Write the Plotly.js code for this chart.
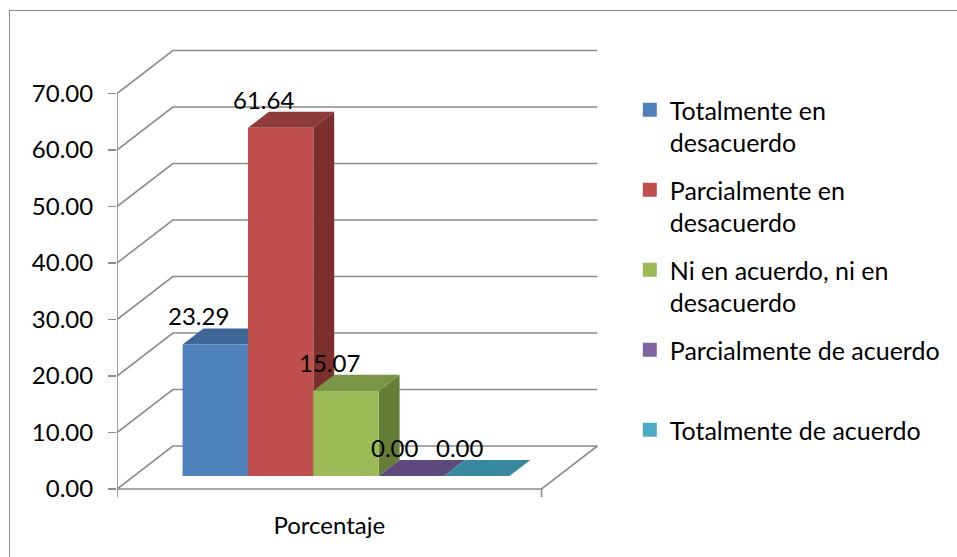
<!DOCTYPE html>
<html>
<head>
<meta charset="utf-8">
<script src="https://cdn.plot.ly/plotly-3.0.1.min.js"></script>
<style>
  html, body { margin: 0; padding: 0; background: #ffffff; }
  #frame { position: absolute; left: 9px; top: 10px; width: 960px; height: 560px;
           border-top: 1.5px solid #8c8c8c; border-left: 1.5px solid #8c8c8c; }
  #chart { position: absolute; left: 0; top: 0; width: 957px; height: 557px; }
</style>
</head>
<body>
<div id="frame"></div>
<div id="chart"></div>
<script>
// ---- data ----
const categories = ['Porcentaje'];
const seriesNames = [
  'Totalmente en desacuerdo',
  'Parcialmente en desacuerdo',
  'Ni en acuerdo, ni en desacuerdo',
  'Parcialmente de acuerdo',
  'Totalmente de acuerdo'
];
const legendLabels = [
  'Totalmente en<br>desacuerdo',
  'Parcialmente en<br>desacuerdo',
  'Ni en acuerdo, ni en<br>desacuerdo',
  'Parcialmente de acuerdo<br>\u00a0',
  'Totalmente de acuerdo<br>\u00a0'
];
const values = [23.29, 61.64, 15.07, 0.00, 0.00];
const yTickValues = [0, 10, 20, 30, 40, 50, 60, 70];
const yTickText = yTickValues.map(v => v.toFixed(2));

// ---- colours: front face, top face, side face ----
const frontColors = ['#4F81BD', '#C0504D', '#9BBB59', '#8064A2', '#4BACC6'];
const topColors   = ['#3E6698', '#8E3B39', '#7A9545', '#5E4A7C', '#37889E'];
const sideColors  = ['#395E8B', '#7C2F2D', '#667D37', '#534168', '#2F788B'];

// ---- geometry of the pseudo-3D box ----
const W = 957, H = 557;
const M = { l: 117, r: 347, t: 40, b: 57 };
const plotW = W - M.l - M.r;
const plotH = H - M.t - M.b;
const pxPerUnit = 395.5 / 70;                 // vertical scale of the value axis
const yLo = -11 / pxPerUnit;
const yRange = [yLo, yLo + plotH / pxPerUnit];
const xRange = [M.l, M.l + plotW];             // x axis measured in pixels

const floorLeft = M.l, floorRight = 545;       // front edge of the floor
const depthDX = 56.3;                          // back wall offset, px
const depthDY = 43 / pxPerUnit;                // back wall offset, value units
const barFront = 0.30, barBack = 0.674;        // bar depth within the floor
const groupFrac = 0.77;                        // share of the floor used by the bars
const FONT = 'Lato, "Open Sans", sans-serif';
const TEXT_SIZE = 24, LEGEND_SIZE = 25;

function proj(x, v, d) { return [x + d * depthDX, v + d * depthDY]; }

const traces = [];

// walls: gridlines running from the front axis to the back wall
const gx = [], gy = [];
yTickValues.forEach(v => {
  const a = proj(floorLeft, v, 0), b = proj(floorLeft, v, 1), c = proj(floorRight, v, 1);
  gx.push(a[0], b[0], c[0], null);
  gy.push(a[1], b[1], c[1], null);
});
traces.push({ x: gx, y: gy, mode: 'lines', line: { color: '#8c8c8c', width: 1.6 },
  hoverinfo: 'skip', showlegend: false });

// floor front and right edges, value axis line, category tick
const f0 = proj(floorLeft, 0, 0), f1 = proj(floorRight, 0, 0), f2 = proj(floorRight, 0, 1);
const tickDrop = 8 / pxPerUnit;
traces.push({
  x: [f0[0], f1[0], f2[0], null, f1[0], f1[0], null, floorLeft, floorLeft],
  y: [f0[1], f1[1], f2[1], null, 0, -tickDrop, null, yTickValues[yTickValues.length - 1], -tickDrop],
  mode: 'lines', line: { color: '#8c8c8c', width: 1.6 }, hoverinfo: 'skip', showlegend: false
});

// bars: side, top, front faces drawn left to right
const groupW = (floorRight - floorLeft) * groupFrac;
const barW = groupW / values.length;
const groupStart = floorLeft + ((floorRight - floorLeft) - groupW) / 2;
const annotations = [];

values.forEach((v, i) => {
  const xl = groupStart + i * barW, xr = xl + barW;
  const b0 = proj(xl, 0, barFront), b1 = proj(xr, 0, barFront);
  const t0 = proj(xl, v, barFront), t1 = proj(xr, v, barFront);
  const k0 = proj(xl, v, barBack), k1 = proj(xr, v, barBack);
  const kb = proj(xr, 0, barBack);
  const poly = (pts, col) => traces.push({
    x: pts.map(p => p[0]).concat([pts[0][0]]),
    y: pts.map(p => p[1]).concat([pts[0][1]]),
    mode: 'lines', fill: 'toself', fillcolor: col, line: { width: 0, color: col },
    hoverinfo: 'skip', showlegend: false
  });
  if (v > 0) poly([b1, kb, k1, t1], sideColors[i]);
  poly([t0, t1, k1, k0], topColors[i]);
  if (v > 0) poly([b0, b1, t1, t0], frontColors[i]);

  annotations.push({
    x: (xl + xr) / 2, y: k0[1] + 12.5 / pxPerUnit, xref: 'x', yref: 'y',
    text: v.toFixed(2), showarrow: false, yanchor: 'middle', xanchor: 'center',
    font: { family: FONT, size: TEXT_SIZE, color: '#000000' }
  });
});

// legend swatches
seriesNames.forEach((name, i) => {
  traces.push({
    type: 'bar', x: [null], y: [null], name: legendLabels[i],
    marker: { color: frontColors[i], line: { color: frontColors[i], width: 2 } },
    legendgroup: 'g' + i, hoverinfo: 'skip'
  });
});

const layout = {
  width: W, height: H,
  margin: M,
  paper_bgcolor: 'rgba(0,0,0,0)', plot_bgcolor: 'rgba(0,0,0,0)',
  hovermode: false,
  font: { family: FONT, size: TEXT_SIZE, color: '#000000' },
  xaxis: {
    range: xRange, showgrid: false, zeroline: false, showline: false, ticks: '',
    tickvals: [(floorLeft + floorRight) / 2], ticktext: categories,
    ticklabelstandoff: 9, tickfont: { family: FONT, size: TEXT_SIZE, color: '#000000' },
    fixedrange: true
  },
  yaxis: {
    range: yRange, showgrid: false, zeroline: false, showline: false,
    tickvals: yTickValues, ticktext: yTickText,
    ticks: 'outside', ticklen: 8, tickwidth: 1.6, tickcolor: '#8c8c8c',
    ticklabelstandoff: 10, tickfont: { family: FONT, size: TEXT_SIZE, color: '#000000' },
    fixedrange: true
  },
  showlegend: true,
  legend: {
    x: (634 - M.l) / plotW, xanchor: 'left', y: 1 - (87 - M.t) / plotH, yanchor: 'top',
    font: { family: FONT, size: LEGEND_SIZE, color: '#000000' },
    valign: 'top', traceorder: 'grouped', tracegroupgap: 12,
    bgcolor: 'rgba(0,0,0,0)', borderwidth: 0
  },
  annotations: annotations
};

Plotly.newPlot('chart', traces, layout, { displayModeBar: false, staticPlot: true });
</script>
</body>
</html>
